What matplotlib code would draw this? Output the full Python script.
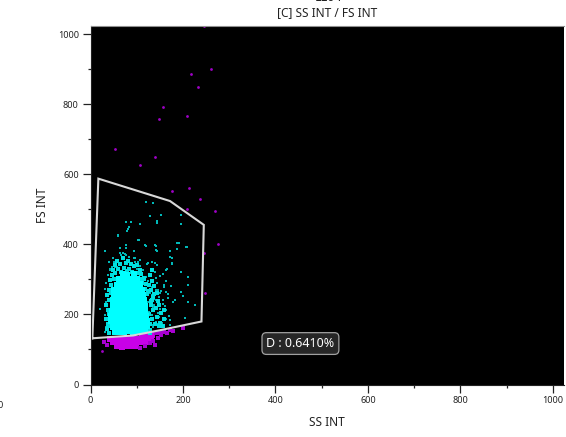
import matplotlib
matplotlib.use("Agg")
import matplotlib.pyplot as plt

plt.rcParams['font.family'] = ['Noto Sans', 'DejaVu Sans']

# gate polygon
gate_x = [4, 17, 172, 245, 240, 150, 92, 4]
gate_y = [132, 588, 524, 456, 180, 155, 140, 132]

# events outside the gate
purple_x = [245, 260, 217, 233, 157, 148, 209, 52, 140, 108, 176, 212, 237, 209, 269, 276, 248, 24, 245]
purple_y = [1023, 902, 886, 850, 794, 758, 766, 674, 649, 626, 554, 561, 529, 500, 497, 401, 261, 95, 375]

# dense purple band under the gate
band_x = [58, 68, 78, 88, 98, 48, 58, 68, 78, 88, 98, 108, 118, 42, 52, 62, 72, 82, 92, 102, 112, 122, 130, 112, 122, 132]
band_y = [110, 108, 111, 109, 110, 120, 119, 121, 118, 122, 119, 121, 120, 130, 129, 131, 128, 130, 129, 131, 128, 130, 128, 138, 139, 141]
band_edge_x = [30, 36, 128, 136, 140, 160, 157, 171, 178, 200, 118, 108, 145, 152, 165, 142, 150]
band_edge_y = [122, 112, 118, 125, 112, 150, 153, 157, 153, 160, 110, 104, 132, 140, 147, 146, 148]

# dense cyan core
core_x = [52, 62, 72, 82, 92, 102, 112, 118,
          48, 58, 68, 78, 88, 98, 108, 118, 122,
          44, 54, 64, 74, 84, 94, 104, 114, 122,
          44, 54, 64, 74, 84, 94, 104, 114, 120,
          46, 56, 66, 76, 86, 96, 106, 118,
          48, 58, 68, 78, 88, 98, 108, 118,
          48, 58, 68, 78, 88, 98, 108, 116,
          50, 60, 70, 80, 90, 100, 114,
          50, 60, 70, 80, 90, 100, 112,
          58, 68, 78, 88, 98, 108,
          62, 72, 82, 92, 100,
          70, 80, 95]
core_y = [150, 151, 150, 152, 151, 153, 154, 156,
          165, 164, 166, 165, 164, 166, 165, 164, 166,
          180, 181, 179, 180, 181, 180, 179, 181, 180,
          195, 194, 196, 195, 194, 196, 195, 194, 196,
          210, 211, 209, 210, 211, 210, 209, 210,
          225, 224, 226, 225, 224, 226, 225, 224,
          240, 241, 239, 240, 241, 240, 239, 241,
          255, 254, 256, 255, 254, 256, 255,
          270, 271, 269, 270, 271, 270, 269,
          285, 284, 286, 285, 284, 286,
          300, 301, 299, 300, 301,
          315, 314, 316]

# bright fringe around the core
fringe_x = [36, 38, 34, 40, 37, 33, 39, 36, 41, 44, 42, 46, 48, 44, 50, 54, 52, 60, 58, 66, 64, 72, 70, 78, 76, 84, 82, 90,
            88, 96, 94, 102, 100, 108, 106, 112, 110, 118, 116, 122, 128, 126, 132, 130, 136, 134, 140, 138, 144, 142, 148,
            146, 126, 130, 134, 128, 138, 132, 144, 136, 128, 130, 150, 156, 152, 160, 148, 158, 128, 124, 120, 116, 40, 38]
fringe_y = [158, 172, 186, 200, 214, 228, 242, 256, 270, 284, 298, 312, 326, 262, 300, 318, 340, 330, 352, 322, 344, 332, 360,
            324, 346, 330, 352, 322, 344, 310, 338, 318, 342, 300, 328, 290, 316, 272, 304, 258, 172, 200, 186, 228, 214, 242,
            172, 258, 194, 218, 166, 238, 284, 270, 296, 312, 282, 328, 262, 250, 156, 238, 176, 168, 204, 188, 226, 214, 146, 268, 286, 300, 146, 166]

# scattered cyan events
sparse_x = [120, 136, 129, 152, 196, 76, 88, 144, 144, 108, 196, 84, 80, 60, 104, 191, 188, 77, 77, 119,
            141, 209, 64, 31, 144, 173, 93, 173, 176, 64, 71, 77, 84, 93, 106, 49, 41, 51, 64, 78,
            96, 132, 123, 176, 143, 46, 57, 71, 107, 165, 85, 100, 42, 196, 211, 211, 196, 200, 211, 225,
            204, 182, 168, 175, 160, 164, 142, 150, 164, 157, 139, 124, 114, 132, 121, 106, 99, 128, 142, 121,
            114, 150, 132, 157, 142, 124, 135, 150, 164, 178, 164, 157, 146, 132, 121, 142, 128, 121, 135, 171,
            20, 33, 31, 34, 38, 42, 52, 74, 76, 67, 96, 103, 60, 81, 103, 117, 139, 142, 171, 189,
            188, 207, 171, 177, 34, 31, 42, 31, 126, 134, 148, 155, 118, 128, 138, 147, 156, 124, 133, 143,
            152, 161, 170, 127, 137, 146, 154, 163, 173, 130, 140, 149, 158, 168]
sparse_y = [522, 517, 481, 485, 485, 464, 464, 468, 460, 458, 458, 449, 439, 425, 413, 405, 405, 398, 389, 396,
            396, 393, 389, 381, 381, 381, 381, 365, 361, 375, 375, 370, 365, 360, 355, 360, 350, 350, 346, 351,
            351, 350, 345, 344, 341, 336, 336, 334, 338, 330, 330, 330, 330, 322, 308, 284, 265, 252, 236, 228,
            191, 241, 246, 281, 284, 265, 303, 310, 327, 317, 346, 346, 327, 327, 308, 317, 298, 284, 269, 274,
            289, 260, 255, 241, 241, 236, 222, 217, 212, 236, 188, 183, 203, 198, 212, 179, 169, 183, 164, 183,
            217, 236, 274, 289, 312, 327, 336, 374, 398, 370, 360, 351, 426, 443, 413, 398, 398, 384, 381, 405,
            386, 394, 365, 346, 164, 150, 183, 198, 180, 171, 192, 176, 252, 262, 244, 271, 230, 296, 278, 289,
            268, 224, 196, 206, 226, 174, 207, 296, 171, 314, 322, 249, 278, 258]

xticks = [0, 200, 400, 600, 800, 1000]
yticks = [0, 200, 400, 600, 800, 1000]
xminor = [100, 300, 500, 700, 900]
yminor = [100, 300, 500, 700, 900]

W, H = 566, 437
fig = plt.figure(figsize=(W / 100, H / 100), dpi=100)
ax = fig.add_axes([90.5 / W, 1 - 384.5 / H, 473.5 / W, 358.5 / H])
ax.set_facecolor("black")

ax.scatter(purple_x, purple_y, s=4, c="#a000c8", marker="o", linewidths=0)
ax.scatter(band_x, band_y, s=20, c="#c800e8", marker="s", linewidths=0)
ax.scatter(band_edge_x, band_edge_y, s=5, c="#a800d0", marker="s", linewidths=0)
ax.scatter(sparse_x, sparse_y, s=3.5, c="#00b8b8", marker="s", linewidths=0)
ax.scatter(fringe_x, fringe_y, s=6, c="#00e0e0", marker="s", linewidths=0)
ax.scatter(core_x, core_y, s=22, c="#00ffff", marker="s", linewidths=0)
ax.plot(gate_x, gate_y, color="#d8d8d8", lw=1.5, solid_joinstyle="miter")

ax.set_xlim(0, 1024)
ax.set_ylim(0, 1024)
ax.set_xticks(xticks)
ax.set_yticks(yticks)
ax.set_xticks(xminor, minor=True)
ax.set_yticks(yminor, minor=True)
ax.tick_params(which="major", length=5.5, width=0.9, labelsize=6.5, pad=3, colors="#222222")
ax.tick_params(which="minor", length=2.2, width=0.9, colors="#222222")
for s in ["left", "bottom"]:
    ax.spines[s].set_color("#222222")
ax.spines["top"].set_color("#909090")
ax.spines["right"].set_visible(False)

ax.text(454, 117, "D : 0.6410%", color="white", fontsize=9, ha="center", va="center",
        bbox=dict(boxstyle="round,pad=0.35", fc="#262626", ec="#a0a0a0", lw=0.9))

fig.text(327 / W, 1 - 422 / H, "SS INT", fontsize=8.5, color="#222222", ha="center", va="center")
fig.text(43 / W, 1 - 205 / H, "FS INT", fontsize=8.5, color="#222222", rotation=90, ha="center", va="center")
fig.text(327 / W, 1 - 13 / H, "[C] SS INT / FS INT", fontsize=8.5, color="#222222", ha="center", va="center")
fig.text(329 / W, 1.021, "LL04", fontsize=9, color="#222222", ha="center", va="top")
fig.text(0, 1 - 406 / H, "0", fontsize=6.5, color="#222222", ha="center", va="center")

fig.savefig("out.png", dpi=100)
